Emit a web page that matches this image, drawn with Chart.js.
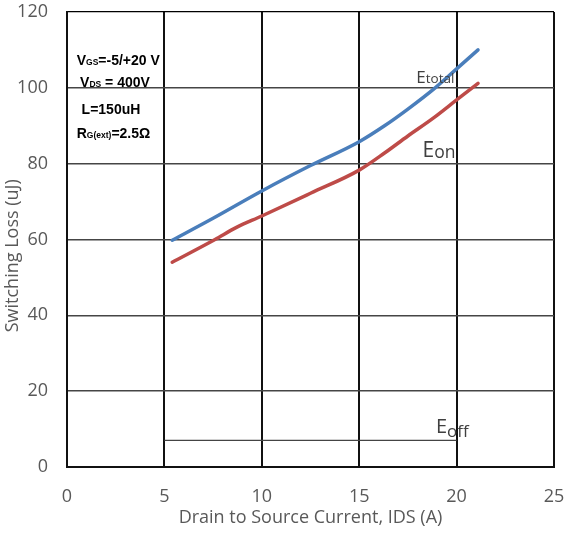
<!DOCTYPE html>
<html>
<head>
<meta charset="utf-8">
<script src="https://cdn.jsdelivr.net/npm/chart.js@4/dist/chart.umd.min.js"></script>
<style>
  html, body { margin: 0; padding: 0; background: #fff; }
  #wrap { width: 567px; height: 534px; }
</style>
</head>
<body>
<div id="wrap"><canvas id="c" width="567" height="534"></canvas></div>
<script>
// ---- data ----
const currentTotal = [5.4, 7.5, 10, 12.5, 15, 16.3, 17.5, 18.9, 20, 21.1];
const eTotal       = [59.8, 65.6, 72.8, 79.5, 85.8, 90.0, 94.4, 100, 105, 110];
const currentOn    = [5.4, 7.6, 8.7, 10, 12.5, 15, 16.3, 17.5, 18.8, 20, 21.1];
const eOn          = [54, 60, 63.2, 66.2, 72.2, 78.3, 82.8, 87.3, 92, 96.8, 101.2];
const currentOff   = [5, 10, 15, 20];
const eOff         = [7, 7, 7, 7];

const xTicks = [0, 5, 10, 15, 20, 25];
const yTicks = [0, 20, 40, 60, 80, 100, 120];

const xTitle = 'Drain to Source Current, IDS (A)';
const yTitle = 'Switching Loss (uJ)';

const seriesNames = ['Etotal', 'Eon', 'Eoff'];

// condition text lines: [main, subscript, rest]
const conditionLines = [
  ['V', 'GS', '=-5/+20 V'],
  ['V', 'DS', ' = 400V'],
  ['L=150uH', '', ''],
  ['R', 'G(ext)', '=2.5\u03A9']
];

function toXY(xs, ys) { return xs.map((x, i) => ({ x: x, y: ys[i] })); }

const labelPlugin = {
  id: 'labels',
  afterDraw(chart) {
    const ctx = chart.ctx;
    const xs = chart.scales.x, ys = chart.scales.y;
    ctx.save();
    ctx.textBaseline = 'alphabetic';
    ctx.textAlign = 'left';

    // series labels: E + subscript
    function subLabel(main, sub, xv, yv, mainSize, subSize, subDrop) {
      const px = xs.getPixelForValue(xv), py = ys.getPixelForValue(yv);
      ctx.fillStyle = '#404040';
      ctx.font = mainSize + 'px "Open Sans"';
      ctx.fillText(main, px, py);
      const w = ctx.measureText(main).width;
      ctx.font = subSize + 'px "Open Sans"';
      ctx.fillText(sub, px + w, py + subDrop);
    }
    subLabel('E', seriesNames[0].slice(1), 17.93, 101.2, 17, 13.5, 0);
    subLabel('E', seriesNames[1].slice(1), 18.25, 81.8, 21, 17.5, 1.5);
    subLabel('E', seriesNames[2].slice(1), 18.94, 8.9, 20, 17, 4);

    // condition text (bold, black)
    ctx.fillStyle = '#000';
    const starts = [0.50, 0.67, 0.75, 0.50];
    const vals = [106.0, 100.3, 93.1, 86.7];
    conditionLines.forEach((ln, i) => {
      let px = xs.getPixelForValue(starts[i]);
      const py = ys.getPixelForValue(vals[i]);
      ctx.font = 'bold 14px "Liberation Sans"';
      ctx.fillText(ln[0], px, py);
      px += ctx.measureText(ln[0]).width;
      if (ln[1]) {
        ctx.font = 'bold 8.5px "Liberation Sans"';
        ctx.fillText(ln[1], px, py);
        px += ctx.measureText(ln[1]).width;
      }
      if (ln[2]) {
        ctx.font = 'bold 14px "Liberation Sans"';
        ctx.fillText(ln[2], px, py);
      }
    });

    // y-axis title
    ctx.fillStyle = '#595959';
    ctx.font = '18px "Open Sans"';
    ctx.textAlign = 'center';
    ctx.textBaseline = 'middle';
    ctx.translate(13, ys.getPixelForValue(55.7));
    ctx.rotate(-Math.PI / 2);
    ctx.fillText(yTitle, 0, 0);
    ctx.restore();
  }
};

new Chart(document.getElementById('c'), {
  type: 'line',
  data: {
    datasets: [
      { label: seriesNames[0], data: toXY(currentTotal, eTotal), borderColor: '#4a7ebb', borderWidth: 3.5,
        pointRadius: 0, cubicInterpolationMode: 'monotone', borderCapStyle: 'round', fill: false },
      { label: seriesNames[1], data: toXY(currentOn, eOn), borderColor: '#be4b48', borderWidth: 3.5,
        pointRadius: 0, cubicInterpolationMode: 'monotone', borderCapStyle: 'round', fill: false },
      { label: seriesNames[2], data: toXY(currentOff, eOff), borderColor: '#444', borderWidth: 1.3,
        pointRadius: 0, tension: 0, fill: false }
    ]
  },
  options: {
    responsive: false,
    animation: false,
    layout: { padding: { left: 0, right: 13, top: 12, bottom: 0 } },
    plugins: { legend: { display: false }, tooltip: { enabled: false } },
    scales: {
      x: {
        type: 'linear', min: 0, max: 25,
        afterBuildTicks: s => { s.ticks = xTicks.map(v => ({ value: v })); },
        afterFit: s => { s.height = 67; s.paddingLeft = 0; s.paddingRight = 0; },
        grid: { color: '#111', lineWidth: 2, drawTicks: false },
        border: { color: '#111', width: 2 },
        ticks: { color: '#595959', font: { family: 'Open Sans', size: 18 }, padding: 19, maxRotation: 0 },
        title: { display: true, text: xTitle, color: '#595959', font: { family: 'Open Sans', size: 18 },
                 padding: { top: 0, bottom: 5 } }
      },
      y: {
        min: 0, max: 120,
        afterBuildTicks: s => { s.ticks = yTicks.map(v => ({ value: v })); },
        afterFit: s => { s.width = 67; s.paddingTop = 0; s.paddingBottom = 0; },
        grid: {
          color: ctx => ctx.tick && ctx.tick.value === 120 ? '#000' : '#454545',
          lineWidth: ctx => ctx.tick && ctx.tick.value === 120 ? 1.2 : 1.6,
          drawTicks: false
        },
        border: { color: '#111', width: 2 },
        ticks: { color: '#595959', font: { family: 'Open Sans', size: 18 }, padding: 19 }
      }
    }
  },
  plugins: [labelPlugin]
});
</script>
</body>
</html>
